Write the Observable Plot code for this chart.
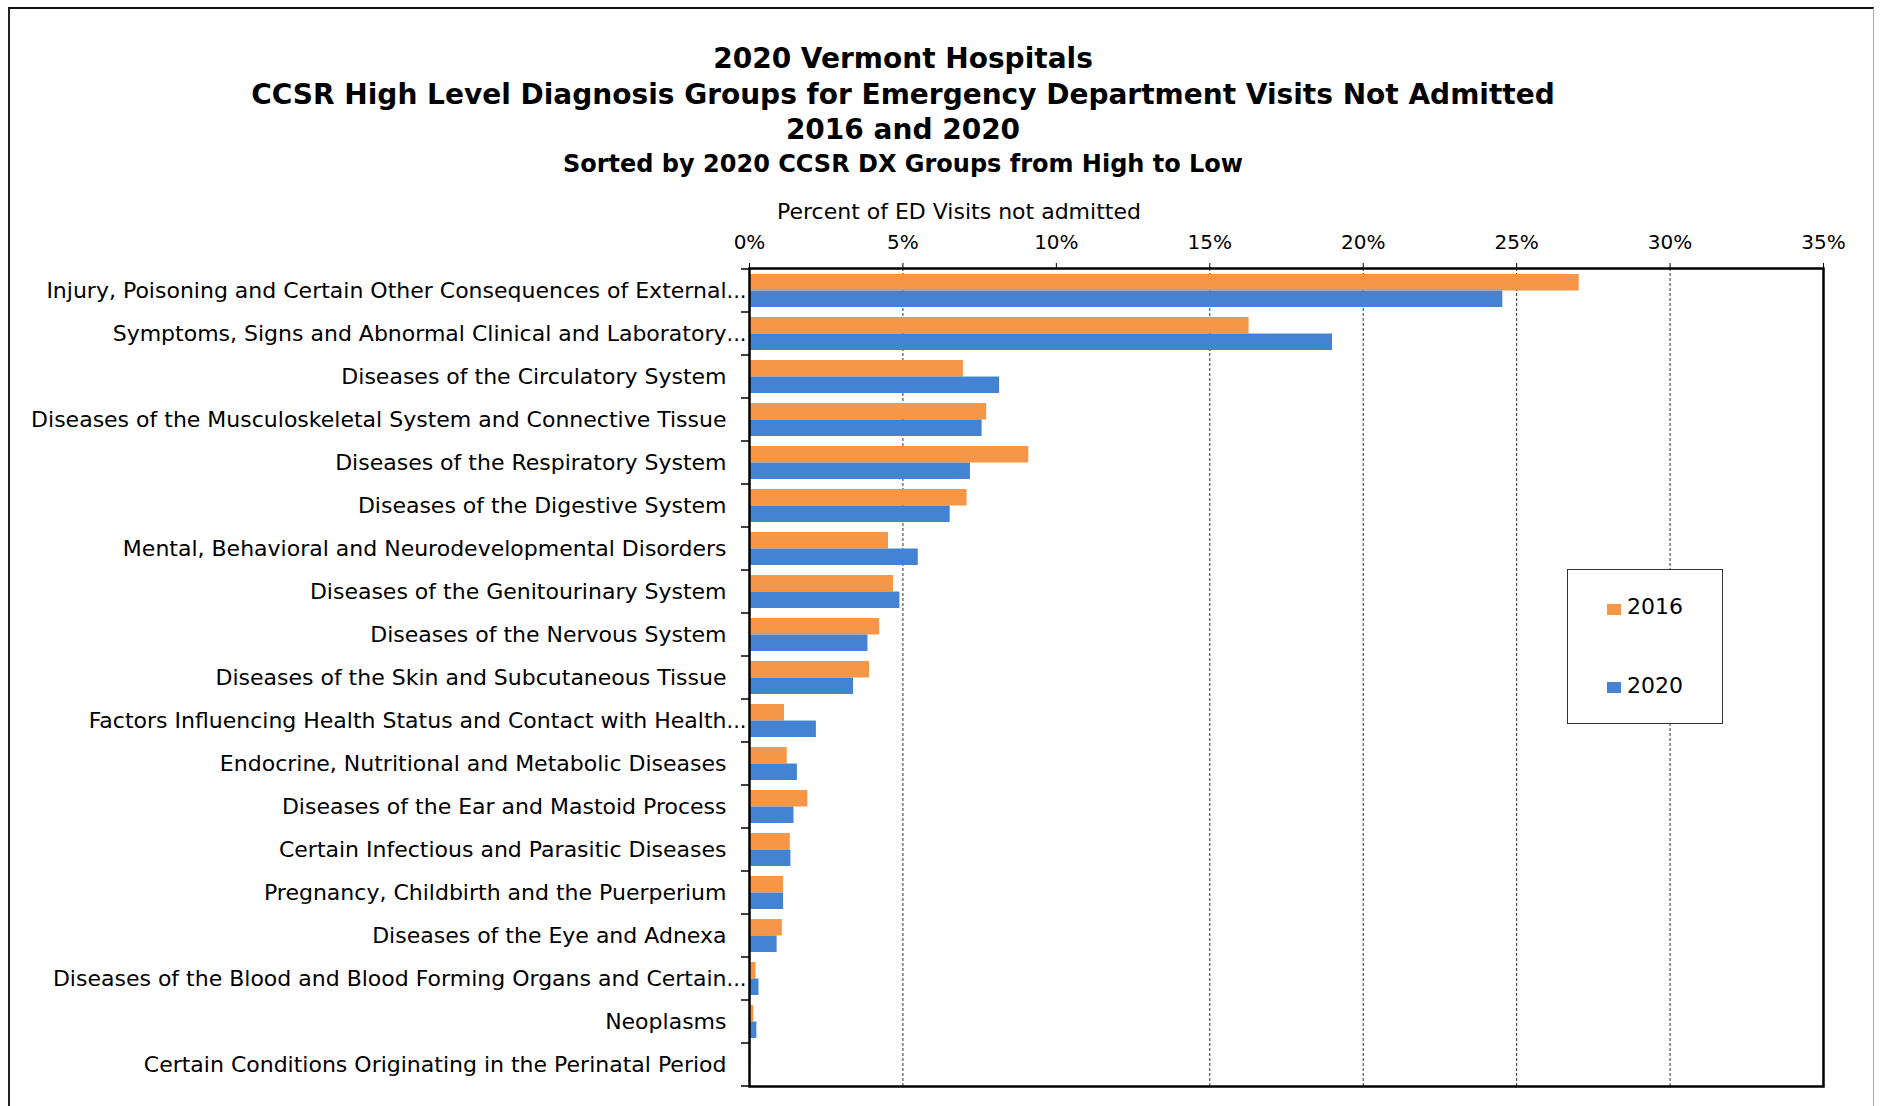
<!DOCTYPE html>
<html>
<head>
<meta charset="utf-8">
<script src="https://cdn.jsdelivr.net/npm/d3@7"></script>
<script src="https://cdn.jsdelivr.net/npm/@observablehq/plot@0.6"></script>
<style>
html, body { margin: 0; padding: 0; background: #fff; }
#wrap { position: relative; width: 1881px; height: 1106px; overflow: hidden; font-family: "DejaVu Sans", sans-serif; color: #000; }
#border { position: absolute; left: 8px; top: 7px; width: 1866px; height: 1200px; border-left: 2px solid #222; border-top: 2px solid #111; border-right: 1px solid #aaa; box-sizing: border-box; }
.t { position: absolute; left: 0; width: 1806px; text-align: center; font-weight: bold; white-space: nowrap; line-height: 1; }
#chart { position: absolute; left: 0; top: 0; }
#axtitle { position: absolute; left: 777px; top: 201px; font-size: 22px; line-height: 1; white-space: nowrap; }
#legend { position: absolute; left: 1567px; top: 569px; width: 156px; height: 155px; box-sizing: border-box; border: 1.5px solid #333; background: #fff; }
.lm { position: absolute; width: 14px; height: 11px; }
.lt { position: absolute; font-size: 22px; line-height: 1; white-space: nowrap; }
</style>
</head>
<body>
<div id="wrap">
  <div id="border"></div>
  <div class="t" style="top:45px;font-size:28px">2020 Vermont Hospitals</div>
  <div class="t" style="top:81px;font-size:28px">CCSR High Level Diagnosis Groups for Emergency Department Visits Not Admitted</div>
  <div class="t" style="top:116px;font-size:28px">2016 and 2020</div>
  <div class="t" style="top:152px;font-size:24px">Sorted by 2020 CCSR DX Groups from High to Low</div>
  <div id="axtitle">Percent of ED Visits not admitted</div>
  <div id="chart"></div>
  <div id="legend"></div>
</div>
<script>
const categories = [
  "Injury, Poisoning and Certain Other Consequences of External",
  "Symptoms, Signs and Abnormal Clinical and Laboratory",
  "Diseases of the Circulatory System",
  "Diseases of the Musculoskeletal System and Connective Tissue",
  "Diseases of the Respiratory System",
  "Diseases of the Digestive System",
  "Mental, Behavioral and Neurodevelopmental Disorders",
  "Diseases of the Genitourinary System",
  "Diseases of the Nervous System",
  "Diseases of the Skin and Subcutaneous Tissue",
  "Factors Influencing Health Status and Contact with Health",
  "Endocrine, Nutritional and Metabolic Diseases",
  "Diseases of the Ear and Mastoid Process",
  "Certain Infectious and Parasitic Diseases",
  "Pregnancy, Childbirth and the Puerperium",
  "Diseases of the Eye and Adnexa",
  "Diseases of the Blood and Blood Forming Organs and Certain",
  "Neoplasms",
  "Certain Conditions Originating in the Perinatal Period"
];
const truncatedLabels = [
  "Injury, Poisoning and Certain Other Consequences of External",
  "Symptoms, Signs and Abnormal Clinical and Laboratory",
  "Factors Influencing Health Status and Contact with Health",
  "Diseases of the Blood and Blood Forming Organs and Certain"
];
const values2016 = [27.04, 16.28, 6.97, 7.73, 9.10, 7.09, 4.53, 4.69, 4.24, 3.91, 1.14, 1.23, 1.90, 1.33, 1.11, 1.07, 0.21, 0.14, 0.05];
const values2020 = [24.55, 19.00, 8.15, 7.58, 7.20, 6.54, 5.50, 4.90, 3.86, 3.39, 2.18, 1.56, 1.45, 1.35, 1.11, 0.90, 0.31, 0.24, 0.01];
const seriesNames = ["2016", "2020"];
const seriesColors = ["#F79646", "#4383D1"];
const xTicks = [0, 5, 10, 15, 20, 25, 30, 35];
const gridTicks = [5, 15, 20, 25, 30];

const data2016 = categories.map((c, i) => ({category: c, value: values2016[i]}));
const data2020 = categories.map((c, i) => ({category: c, value: values2020[i]}));

const W = 1881, H = 1106, mT = 268, mB = 20, mL = 749, mR = 58;
const band = (H - mT - mB) / categories.length;
const barH = 16.5;
const gap = (band - 2 * barH) / 2;

function boundaryTicks(index, scales, values, dims) {
  const y = scales.y;
  let bw = band;
  if (y && typeof y.bandwidth === "function") bw = y.bandwidth();
  else if (scales.scales && scales.scales.y && scales.scales.y.bandwidth) bw = scales.scales.y.bandwidth;
  const x0 = scales.x(0);
  const ys = categories.map(c => y(c));
  ys.push(y(categories[categories.length - 1]) + bw);
  const g = d3.create("svg:g");
  g.selectAll("line").data(ys).join("line")
    .attr("x1", x0 - 8).attr("x2", x0)
    .attr("y1", d => d).attr("y2", d => d)
    .attr("stroke", "#000").attr("stroke-width", 1.5);
  return g.node();
}

const chart = Plot.plot({
  width: W, height: H,
  marginTop: mT, marginBottom: mB, marginLeft: mL, marginRight: mR,
  style: {fontFamily: "DejaVu Sans", fontSize: "22px", background: "transparent", color: "#000", overflow: "visible"},
  x: {domain: [0, 35]},
  y: {domain: categories, padding: 0},
  marks: [
    Plot.ruleX(gridTicks, {stroke: "#333", strokeDasharray: "3,2", strokeWidth: 1}),
    Plot.barX(data2016, {x: "value", y: "category", fill: seriesColors[0], insetTop: gap, insetBottom: gap + barH}),
    Plot.barX(data2020, {x: "value", y: "category", fill: seriesColors[1], insetTop: gap + barH, insetBottom: gap}),
    Plot.axisX(xTicks, {anchor: "top", tickFormat: d => d + "%", tickSize: 6, tickPadding: 14, fontSize: 20, label: null, stroke: "#000"}),
    Plot.axisY({anchor: "left", tickSize: 0, tickPadding: 23, label: null, fontSize: 22}),
    Plot.text(truncatedLabels, {x: () => 0, y: d => d, text: () => "...", textAnchor: "start", dx: -23, fontSize: 21}),
    boundaryTicks,
    Plot.frame({stroke: "#000", strokeWidth: 2.5})
  ]
});
document.getElementById("chart").appendChild(chart);

const legend = document.getElementById("legend");
const markerTops = [34, 112];
const textTops = [26, 105];
seriesNames.forEach((name, i) => {
  const m = document.createElement("div");
  m.className = "lm";
  m.style.left = "39px";
  m.style.top = markerTops[i] + "px";
  m.style.background = seriesColors[i];
  legend.appendChild(m);
  const t = document.createElement("div");
  t.className = "lt";
  t.style.left = "59px";
  t.style.top = textTops[i] + "px";
  t.textContent = name;
  legend.appendChild(t);
});
</script>
</body>
</html>
